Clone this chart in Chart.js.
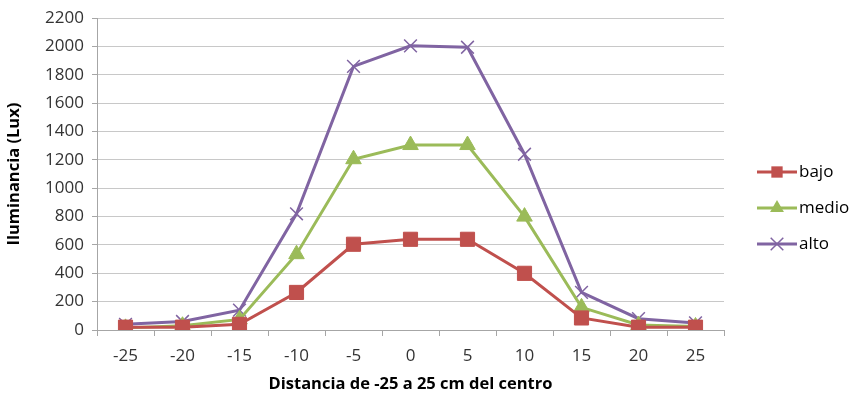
<!DOCTYPE html>
<html>
<head>
<meta charset="utf-8">
<script src="https://cdn.jsdelivr.net/npm/chart.js@4.4.1/dist/chart.umd.min.js"></script>
<style>
html,body{margin:0;padding:0;background:#fff;}
#wrap{width:853px;height:400px;position:relative;}
</style>
</head>
<body>
<div id="wrap"><canvas id="c" width="853" height="400"></canvas></div>
<script>
const categories = ['-25','-20','-15','-10','-5','0','5','10','15','20','25'];
const bajo  = [20, 20, 40, 265, 605, 640, 640, 400, 85, 20, 20];
const medio = [15, 30, 75, 535, 1205, 1305, 1305, 800, 160, 35, 25];
const alto  = [40, 60, 140, 820, 1860, 2005, 1995, 1240, 265, 80, 50];
const seriesNames = ['bajo', 'medio', 'alto'];
const yTicks = [0, 200, 400, 600, 800, 1000, 1200, 1400, 1600, 1800, 2000, 2200];

const colors = ['#C0504D', '#9BBB59', '#8064A2'];
const FONT = '"Open Sans", "Noto Sans", sans-serif';

function drawMarker(ctx, style, x, y, r, color) {
  ctx.save();
  ctx.fillStyle = color; ctx.strokeStyle = color;
  ctx.beginPath();
  if (style === 'rect') {
    const s = Math.SQRT1_2 * r;
    ctx.rect(x - s, y - s, 2 * s, 2 * s); ctx.fill();
  } else if (style === 'triangle') {
    ctx.moveTo(x, y - r);
    ctx.lineTo(x + r * 0.866, y + r * 0.5);
    ctx.lineTo(x - r * 0.866, y + r * 0.5);
    ctx.closePath(); ctx.fill();
  } else {
    ctx.lineWidth = 1.5;
    const s = r * 0.7;
    ctx.moveTo(x - s, y - s); ctx.lineTo(x + s, y + s);
    ctx.moveTo(x + s, y - s); ctx.lineTo(x - s, y + s);
    ctx.stroke();
  }
  ctx.restore();
}

const legendPlugin = {
  id: 'customLegend',
  afterDraw(chart) {
    const ctx = chart.ctx;
    const ys = [172, 208, 244];
    chart.data.datasets.forEach((ds, i) => {
      const y = ys[i];
      ctx.save();
      ctx.strokeStyle = ds.borderColor; ctx.lineWidth = 3;
      ctx.beginPath(); ctx.moveTo(757, y); ctx.lineTo(797, y); ctx.stroke();
      ctx.restore();
      drawMarker(ctx, ds.pointStyle, 777, y, ds.pointStyle === 'crossRot' ? 9 : 8, ds.borderColor);
      ctx.save();
      ctx.fillStyle = '#000';
      ctx.font = '17px ' + FONT;
      ctx.textBaseline = 'middle';
      ctx.fillText(ds.label, 799, y);
      ctx.restore();
    });
  }
};

const data = {
  labels: categories,
  datasets: [
    { label: seriesNames[0], data: bajo, borderColor: colors[0], backgroundColor: colors[0],
      pointStyle: 'rect', pointRadius: 10, pointHoverRadius: 10, borderWidth: 3, pointBorderWidth: 1 },
    { label: seriesNames[1], data: medio, borderColor: colors[1], backgroundColor: colors[1],
      pointStyle: 'triangle', pointRadius: 9, pointHoverRadius: 9, borderWidth: 3, pointBorderWidth: 1 },
    { label: seriesNames[2], data: alto, borderColor: colors[2], backgroundColor: colors[2],
      pointStyle: 'crossRot', pointRadius: 9, pointHoverRadius: 9, borderWidth: 3, pointBorderWidth: 1.5 }
  ]
};

new Chart(document.getElementById('c'), {
  type: 'line',
  data,
  plugins: [legendPlugin],
  options: {
    responsive: false,
    animation: false,
    devicePixelRatio: 1,
    layout: { padding: { left: 4, right: 129, top: 14, bottom: 0 } },
    plugins: { legend: { display: false }, tooltip: { enabled: false } },
    elements: { line: { tension: 0 } },
    scales: {
      x: {
        offset: true,
        grid: { offset: true, drawOnChartArea: false, drawTicks: true, tickLength: 6, color: '#a6a6a6' },
        border: { color: '#a6a6a6', width: 1 },
        ticks: { color: '#333', font: { family: FONT, size: 17 }, padding: 10, maxRotation: 0 },
        title: { display: true, text: 'Distancia de -25 a 25 cm del centro', color: '#000',
                 font: { family: FONT, size: 16.5, weight: 'bold' }, padding: { top: 0, bottom: 6 } },
        afterFit(s) { s.height = 70; }
      },
      y: {
        min: 0, max: 2200,
        afterBuildTicks(s) { s.ticks = yTicks.map(v => ({ value: v })); },
        grid: { color: '#c8c8c8', tickLength: 5, drawTicks: true, tickColor: '#a6a6a6' },
        border: { color: '#a6a6a6', width: 1 },
        ticks: { color: '#333', font: { family: FONT, size: 17 }, padding: 8,
                 callback: v => String(v) },
        title: { display: true, text: 'Iluminancia (Lux)', color: '#000',
                 font: { family: FONT, size: 16.5, weight: 'bold' }, padding: { top: 0, bottom: 2 } },
        afterFit(s) { s.width = 93; }
      }
    }
  }
});
</script>
</body>
</html>
